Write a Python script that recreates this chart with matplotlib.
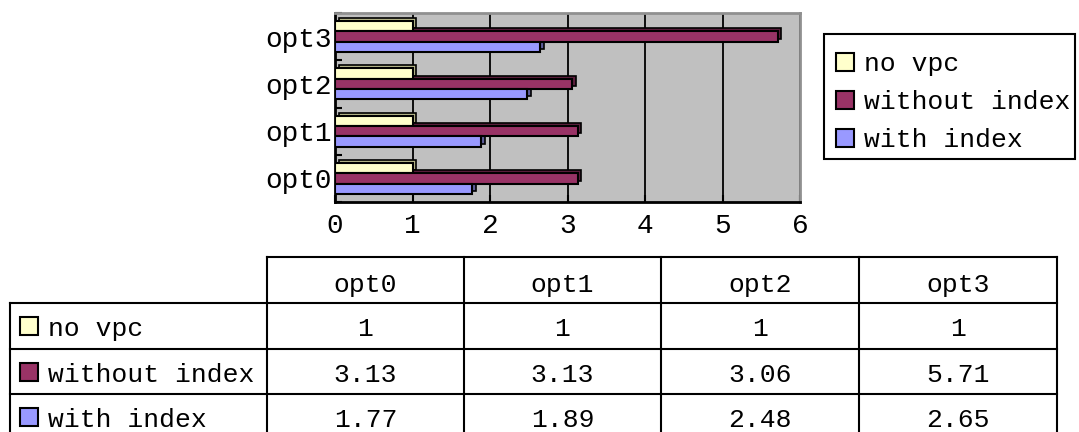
import matplotlib
matplotlib.use('Agg')
import matplotlib.pyplot as plt
from matplotlib.patches import Rectangle
from matplotlib.lines import Line2D
from matplotlib.transforms import offset_copy
import numpy as np

# data
categories = ['opt0', 'opt1', 'opt2', 'opt3']
series_names = ['no vpc', 'without index', 'with index']
no_vpc = [1, 1, 1, 1]
without_index = [3.13, 3.13, 3.06, 5.71]
with_index = [1.77, 1.89, 2.48, 2.65]
x_ticks = [0, 1, 2, 3, 4, 5, 6]

colors = ['#FFFFCC', '#993366', '#9999FF']
side_colors = ['#B8B88A', '#5C1F3D', '#5C5C99']
FONT = 'Liberation Mono'
FS = 19

plt.rcParams['font.family'] = [FONT, 'DejaVu Sans']

fig = plt.figure(figsize=(10.79, 4.32), dpi=100)
W, H = 1079, 432

# chart area in pixels
left, right, top, bottom = 335, 800, 13, 202
ax = fig.add_axes([left / W, 1 - bottom / H, (right - left) / W, (bottom - top) / H])
ax.set_facecolor('#C0C0C0')

values = [no_vpc, without_index, with_index]
y = np.arange(len(categories))
h = 0.22
offsets = [h, 0, -h]
depth = offset_copy(ax.transData, fig=fig, x=3.5, y=3, units='dots')
for vals, off, c, sc in zip(values, offsets, colors, side_colors):
    # side/top face of the 3d bar
    ax.barh(y + off, vals, height=h, color=sc, edgecolor='black', linewidth=1.2,
            transform=depth, zorder=2)
    ax.barh(y + off, vals, height=h, color=c, edgecolor='black', linewidth=1.5, zorder=3)

ax.set_xlim(0, 6)
ax.set_ylim(-0.5, 3.5)
ax.set_xticks(x_ticks)
ax.set_xticklabels([str(t) for t in x_ticks], fontsize=FS + 1, family=FONT)
ax.set_yticks(y)
ax.set_yticklabels(categories, fontsize=FS + 1, family=FONT)
ax.set_yticks(np.arange(-0.5, 4, 1), minor=True)
ax.tick_params(axis='x', direction='in', length=5, width=1.5, pad=8)
ax.tick_params(axis='y', which='major', length=0, pad=2)
ax.tick_params(axis='y', which='minor', direction='in', length=5, width=1.5)
ax.grid(axis='x', color='black', linewidth=1.3, zorder=1)
ax.set_axisbelow(True)
for s in ['left', 'bottom']:
    ax.spines[s].set_color('black')
    ax.spines[s].set_linewidth(2)
for s in ['top', 'right']:
    ax.spines[s].set_color('#909090')
    ax.spines[s].set_linewidth(2)

# overlay in pixel coordinates for legend and data table
ov = fig.add_axes([0, 0, 1, 1], zorder=5)
ov.set_xlim(0, W)
ov.set_ylim(H, 0)
ov.axis('off')
ov.patch.set_alpha(0)

# legend
ov.add_patch(Rectangle((824, 34), 251, 125, fill=False, edgecolor='black', linewidth=1.5))
leg_y = [72, 110, 148]
for name, c, ly in zip(series_names, colors, leg_y):
    ov.add_patch(Rectangle((836, ly - 19), 18, 18, facecolor=c, edgecolor='black', linewidth=1.5))
    ov.text(864, ly - 1, name, fontsize=FS, family=FONT, va='baseline', ha='left')

# table
col_edges = [10, 267, 464, 661, 859, 1057]
row_edges = [257, 303, 349, 394, 440]
lw = 1.5
ov.add_line(Line2D([col_edges[1], col_edges[-1]], [row_edges[0]] * 2, color='black', lw=lw))
for r in row_edges[1:]:
    ov.add_line(Line2D([col_edges[0], col_edges[-1]], [r, r], color='black', lw=lw))
ov.add_line(Line2D([col_edges[0]] * 2, [row_edges[1], row_edges[-1]], color='black', lw=lw))
for cx in col_edges[1:]:
    ov.add_line(Line2D([cx, cx], [row_edges[0], row_edges[-1]], color='black', lw=lw))

for j, cat in enumerate(categories):
    cx = (col_edges[j + 1] + col_edges[j + 2]) / 2
    ov.text(cx, row_edges[0] + 35, cat, fontsize=FS, family=FONT, ha='center', va='baseline')

for i, (name, vals, c) in enumerate(zip(series_names, values, colors)):
    base = row_edges[i + 1] + 33
    ov.add_patch(Rectangle((20, base - 19), 18, 18, facecolor=c, edgecolor='black', linewidth=1.5))
    ov.text(48, base, name, fontsize=FS, family=FONT, ha='left', va='baseline')
    for j, v in enumerate(vals):
        cx = (col_edges[j + 1] + col_edges[j + 2]) / 2
        ov.text(cx, base, f'{v:g}', fontsize=FS, family=FONT, ha='center', va='baseline')

fig.savefig('out.png', dpi=100)
